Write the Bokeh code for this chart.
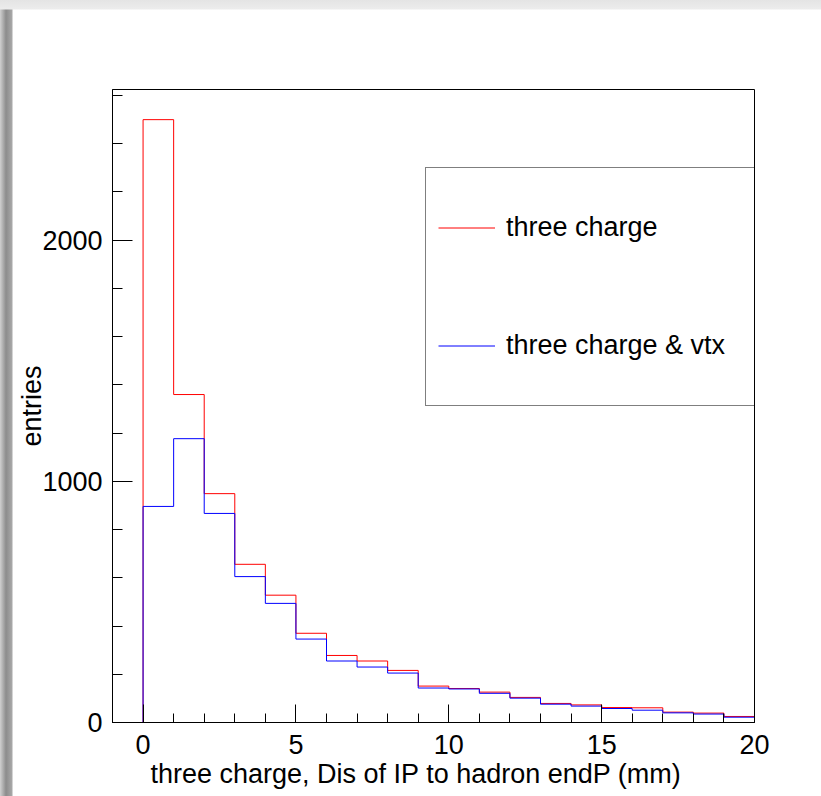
import numpy as np
from bokeh.plotting import figure
from bokeh.models import FixedTicker, Range1d, Legend, LegendItem, Title
from bokeh.embed import file_html
from bokeh.resources import INLINE

# ---- data ----
bin_edges = list(range(-1, 21))
red_counts = [0, 2500, 1360, 949, 656, 528, 370, 278, 255, 216, 151,
              141, 126, 104, 79, 73, 62, 61, 43, 39, 25]
blue_counts = [0, 896, 1177, 867, 605, 494, 346, 255, 230, 205, 143,
               139, 121, 101, 76, 68, 58, 51, 40, 35, 22]
series_labels = ["three charge", "three charge & vtx"]
series_colors = ["#ff0000", "#0000ff"]
x_major_ticks = [0, 5, 10, 15, 20]
x_minor_ticks = list(range(-1, 21))
y_major_ticks = [0, 1000, 2000]
y_minor_ticks = list(range(0, 2601, 200))
x_title = "three charge, Dis of IP to hadron endP (mm)"
y_title = "entries"

FONT = "Liberation Sans"
FS = "27px"


def outline(edges, counts):
    xs = [edges[0]]
    ys = [0]
    for i, c in enumerate(counts):
        xs += [edges[i], edges[i + 1]]
        ys += [c, c]
    xs.append(edges[-1])
    ys.append(0)
    return xs, ys


p = figure(width=821, height=796, output_backend="svg", toolbar_location=None,
           x_range=Range1d(-1, 20), y_range=Range1d(0, 2625),
           min_border_left=112, min_border_right=67, min_border_top=89,
           min_border_bottom=74)
# photographed-page look: grey shadow at the left edge, light band on top
p.styles = {"background": (
    "linear-gradient(to bottom, #e4e4e4 0px, #ececec 9px, rgba(255,255,255,0) 10px), "
    "linear-gradient(to right, #d0d0d0 0px, #8c8c8c 6px, #a8a8a8 12px, #ffffff 13px)")}
p.background_fill_color = "white"
p.border_fill_color = "white"
p.border_fill_alpha = 0.0
p.outline_line_color = "black"
p.outline_line_width = 1
p.xgrid.visible = False
p.ygrid.visible = False

renderers = []
for counts, color in zip([red_counts, blue_counts], series_colors):
    xs, ys = outline(bin_edges, counts)
    r = p.line(xs, ys, line_color=color, line_width=1)
    renderers.append(r)

for ax in (p.xaxis[0], p.yaxis[0]):
    ax.axis_line_color = "black"
    ax.major_tick_line_color = "black"
    ax.minor_tick_line_color = "black"
    ax.major_tick_out = 0
    ax.minor_tick_out = 0
    ax.major_label_text_font = FONT
    ax.major_label_text_font_size = FS
    ax.major_label_text_color = "black"
    ax.axis_label_text_font = FONT
    ax.axis_label_text_font_size = FS
    ax.axis_label_text_font_style = "normal"
    ax.axis_label_text_color = "black"

xa = p.xaxis[0]
xa.ticker = FixedTicker(ticks=x_major_ticks, minor_ticks=x_minor_ticks)
xa.major_tick_in = 18
xa.minor_tick_in = 9
xa.major_label_standoff = 12

ya = p.yaxis[0]
ya.ticker = FixedTicker(ticks=y_major_ticks, minor_ticks=y_minor_ticks)
ya.major_tick_in = 20
ya.minor_tick_in = 10
ya.major_label_standoff = 10
ya.axis_label = y_title
ya.axis_label_standoff = -8

# x-axis title, placed like ROOT does (slightly left of the frame centre)
p.add_layout(Title(text=x_title, align="left", offset=38, standoff=0,
                   text_font=FONT, text_font_size=FS, text_font_style="normal",
                   text_color="black"), "below")

legend = Legend(
    items=[LegendItem(label=lab, renderers=[r]) for lab, r in zip(series_labels, renderers)],
    location=(313, 316), margin=0, padding=12, spacing=23,
    glyph_width=57, glyph_height=95, label_height=95, label_width=237,
    label_standoff=11, label_text_font=FONT, label_text_font_size=FS,
    label_text_color="black", border_line_color="black", border_line_width=1,
    background_fill_color="white", background_fill_alpha=1.0,
)
p.add_layout(legend)

open("out.html", "w").write(file_html(p, INLINE))
